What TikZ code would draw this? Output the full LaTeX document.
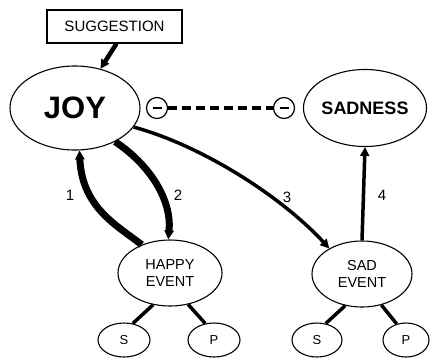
\documentclass[tikz,border=0pt]{standalone}
\usepackage{fontspec}
\setmainfont{Liberation Sans}
\usetikzlibrary{shapes.geometric,arrows.meta}
\begin{document}
\begin{tikzpicture}[x=1pt,y=-1pt,
  ell/.style={draw, ellipse, line width=1.1pt, inner sep=0pt, align=center},
  arr/.style={-{Triangle[length=9pt,width=9pt]}},
  link/.style={line width=3.5pt},
  minus/.style={draw, circle, line width=1.2pt, minimum size=21pt, inner sep=0pt,
    path picture={\draw[line width=1.2pt] ([xshift=-4.5pt]path picture bounding box.center) -- ([xshift=4.5pt]path picture bounding box.center);}},
  num/.style={font=\fontsize{15}{15}\selectfont}
]
\useasboundingbox (0,0) rectangle (430,360);
\fill[white] (0,0) rectangle (430,360);

\node[draw, line width=1.1pt, minimum width=135pt, minimum height=33pt, inner sep=0pt,
  font=\fontsize{15}{15}\selectfont] (sugg) at (114.5,26.5) {SUGGESTION};

\node[ell, minimum width=130pt, minimum height=84pt, font=\fontsize{31}{31}\selectfont\bfseries] (joy) at (75,108) {JOY};
\node[ell, minimum width=120pt, minimum height=77pt, font=\fontsize{18}{18}\selectfont\bfseries] (sadness) at (365,108) {SADNESS};

\node[minus] (m1) at (157,108) {};
\node[minus] (m2) at (284,108) {};
\draw[line width=4pt, dash pattern=on 9pt off 5pt] (m1) -- (m2);

\node[ell, minimum width=104pt, minimum height=66pt, font=\fontsize{14.5}{17}\selectfont] (happy) at (170,273) {HAPPY\\EVENT};
\node[ell, minimum width=100pt, minimum height=66pt, font=\fontsize{14.5}{17}\selectfont] (sad) at (362,274) {SAD\\EVENT};

\node[ell, minimum width=52pt, minimum height=34pt, font=\fontsize{13}{13}\selectfont] (hs) at (124,340) {S};
\node[ell, minimum width=52pt, minimum height=34pt, font=\fontsize{13}{13}\selectfont] (hp) at (214,340) {P};
\node[ell, minimum width=50pt, minimum height=34pt, font=\fontsize{13}{13}\selectfont] (ss) at (317,340) {S};
\node[ell, minimum width=46pt, minimum height=34pt, font=\fontsize{13}{13}\selectfont] (sp) at (406,340) {P};

\draw[link] (happy.-118) -- (hs.62);
\draw[link] (happy.-60) -- (hp.118);
\draw[link] (sad.-118) -- (ss.62);
\draw[link] (sad.-58) -- (sp.120);

\coordinate (sg) at ([xshift=2pt]sugg.south);
\draw[arr, line width=4.5pt] (sg) -- (joy.57);

\draw[arr, line width=7pt] (happy.135) .. controls (118,226) and (82,208) .. (joy.-84);
\draw[arr, line width=7pt] (joy.-40) .. controls (150,165) and (172,200) .. (happy.93);
\draw[arr, line width=3.5pt] (joy.-18) .. controls (200,145) and (280,195) .. (sad.142);
\draw[arr, line width=3.5pt] (sad.north) -- (sadness.south);

\node[num] (n1) at (70,195) {1};
\node[num] (n2) at (178,195) {2};
\node[num] (n3) at (287,197) {3};
\node[num] (n4) at (382,195) {4};
\end{tikzpicture}
\end{document}
